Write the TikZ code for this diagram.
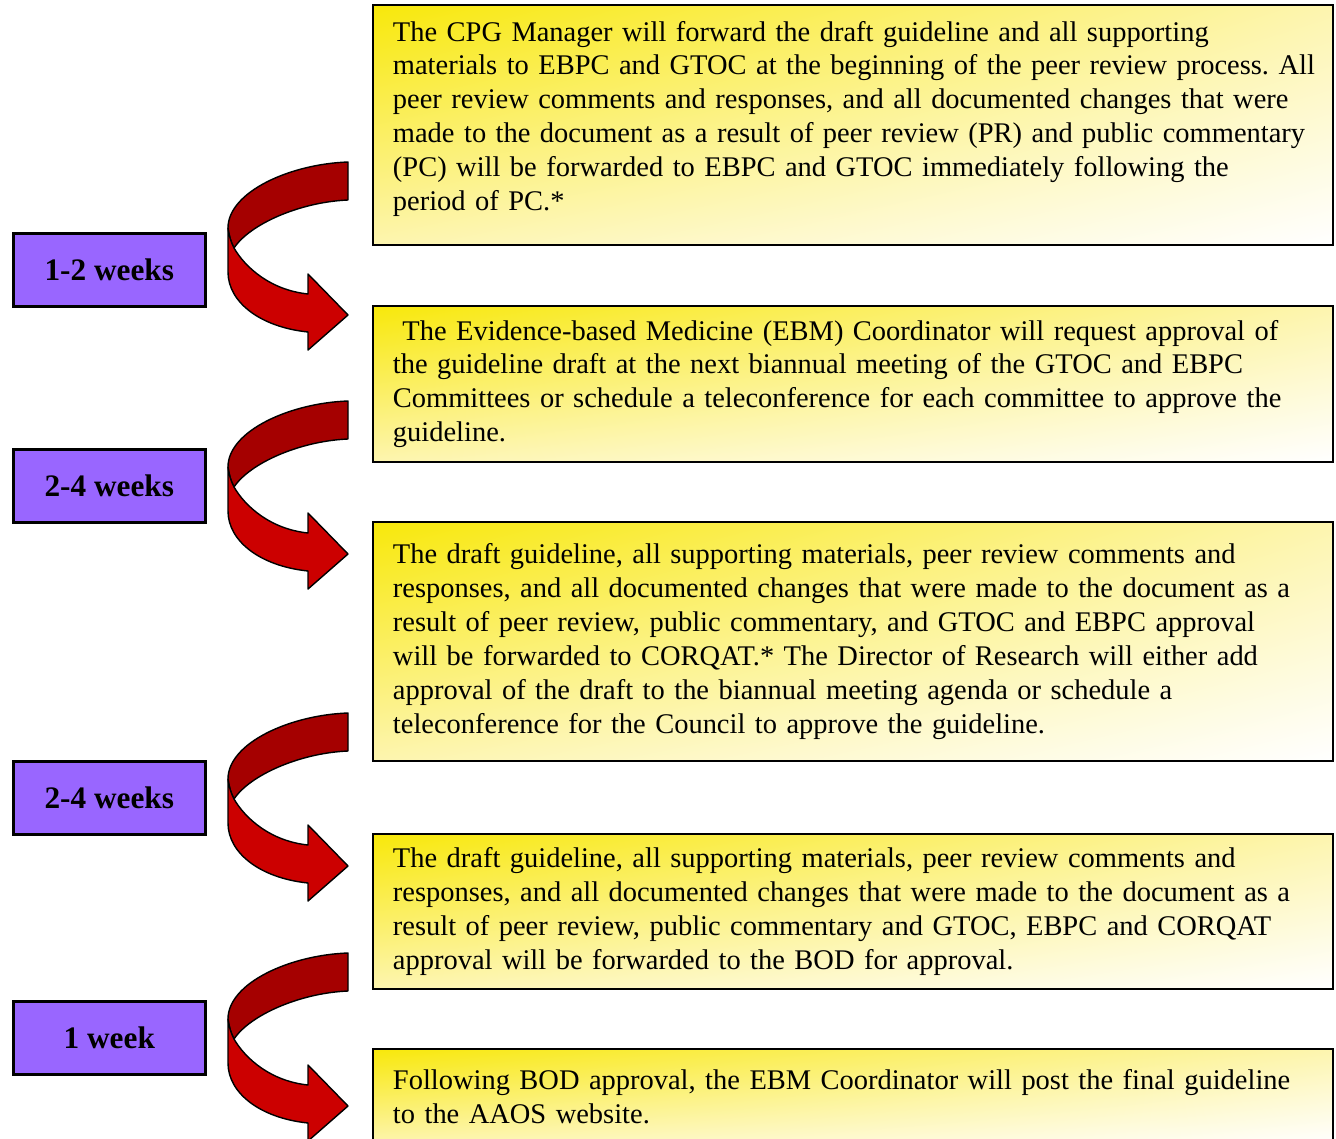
\documentclass[tikz,border=0pt]{standalone}
\usepackage{fontspec}
\setmainfont{Liberation Serif}
\usetikzlibrary{shadings}
\frenchspacing
\definecolor{notegold}{RGB}{248,232,10}
\definecolor{notepale}{RGB}{253,245,175}
\definecolor{timeviolet}{RGB}{153,102,255}
\definecolor{arrowdark}{RGB}{165,0,0}
\definecolor{arrowred}{RGB}{204,0,0}
\begin{document}
\begin{tikzpicture}[x=0.02cm, y=-0.02cm,
    notebox/.style={draw, line width=1.1pt, anchor=north west, text width=18.4cm,
      inner xsep=0.4cm, align=left, upper left=notegold, upper right=notepale,
      lower left=notepale, lower right=white, font=\fontsize{16.2}{19.3}\selectfont},
    timebox/.style={draw, line width=1.5pt, fill=timeviolet, anchor=north west,
      minimum width=3.84cm, minimum height=1.46cm, font=\fontsize{17.8}{20}\selectfont\bfseries},
    backband/.style={fill=arrowdark, draw=black, line width=0.8pt, line join=round},
    frontband/.style={fill=arrowred, draw=black, line width=0.8pt, line join=round}]
    \useasboundingbox (0, 0) rectangle (1336, 1139);

    % Draw the process steps
    \node[notebox, minimum height=4.8cm] (note1) at (372, 4) {The CPG Manager will forward the draft guideline and all supporting\\
      \mbox{materials to EBPC and GTOC at the beginning of the peer review process. All}\\
      peer review comments and responses, and all documented changes that were\\
      \mbox{made to the document as a result of peer review (PR) and public commentary}\\
      (PC) will be forwarded to EBPC and GTOC immediately following the\\
      period of PC.*\\[-0.55em]\mbox{}};
    \node[notebox, minimum height=3.12cm] (note2) at (372, 305) {\ The Evidence-based Medicine (EBM) Coordinator will request approval of\\
      the guideline draft at the next biannual meeting of the GTOC and EBPC\\
      Committees or schedule a teleconference for each committee to approve the\\
      guideline.};
    \node[notebox, minimum height=4.78cm] (note3) at (372, 521) {The draft guideline, all supporting materials, peer review comments and\\
      responses, and all documented changes that were made to the document as a\\
      result of peer review, public commentary, and GTOC and EBPC approval\\
      will be forwarded to CORQAT.* The Director of Research will either add\\
      approval of the draft to the biannual meeting agenda or schedule a\\
      teleconference for the Council to approve the guideline.};
    \node[notebox, minimum height=3.1cm] (note4) at (372, 833) {The draft guideline, all supporting materials, peer review comments and\\
      responses, and all documented changes that were made to the document as a\\
      result of peer review, public commentary and GTOC, EBPC and CORQAT\\
      approval will be forwarded to the BOD for approval.};
    \node[notebox, minimum height=1.9cm] (note5) at (372, 1048) {Following BOD approval, the EBM Coordinator will post the final guideline\\
      to the AAOS website.};

    % Draw the time labels
    \node[timebox] (time1) at (12, 232) {1-2 weeks};
    \node[timebox] (time2) at (12, 448) {2-4 weeks};
    \node[timebox] (time3) at (12, 760) {2-4 weeks};
    \node[timebox] (time4) at (12, 1000) {1 week};

    % Draw the curved arrows between steps
    \foreach \y in {162, 401, 713, 953} {
      \begin{scope}[shift={(0, \y)}]
        \draw[backband] (348, 0) .. controls (290, 2) and (228, 30) .. (228, 66)
          .. controls (229, 74) and (231, 80) .. (234, 86)
          .. controls (250, 62) and (300, 40) .. (348, 38) -- cycle; % back of the band
        \draw[frontband] (228, 66) -- (228, 110) .. controls (228, 140) and (260, 165) .. (308, 170)
          -- (308, 188) -- (348, 153) -- (308, 112) -- (308, 132)
          .. controls (270, 128) and (245, 105) .. (234, 86)
          .. controls (231, 80) and (229, 74) .. (228, 66) -- cycle; % front and head
      \end{scope}
    }
\end{tikzpicture}
\end{document}
